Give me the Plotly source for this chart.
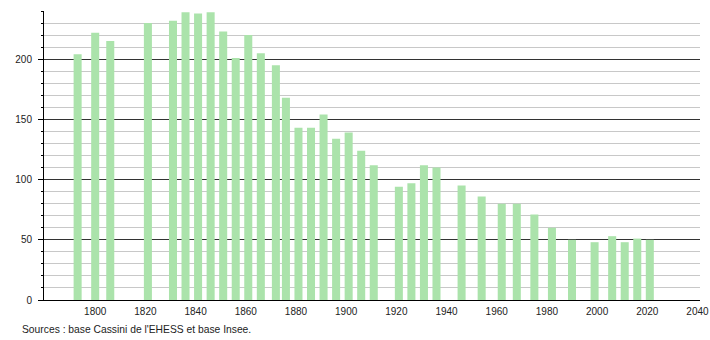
import plotly.graph_objects as go

years = [1793, 1800, 1806, 1821, 1831, 1836, 1841, 1846, 1851, 1856, 1861, 1866,
         1872, 1876, 1881, 1886, 1891, 1896, 1901, 1906, 1911, 1921, 1926, 1931,
         1936, 1946, 1954, 1962, 1968, 1975, 1982, 1990, 1999, 2006, 2011, 2016, 2021]
population = [204, 222, 215, 230, 232, 239, 238, 239, 223, 201, 220, 205,
              195, 168, 143, 143, 154, 134, 139, 124, 112, 94, 97, 112,
              110, 95, 86, 80, 80, 71, 60, 50, 48, 53, 48, 51, 50]
x_ticks = [1800, 1820, 1840, 1860, 1880, 1900, 1920, 1940, 1960, 1980, 2000, 2020, 2040]
y_ticks = [0, 50, 100, 150, 200]
source_text = "Sources : base Cassini de l'EHESS et base Insee."

fig = go.Figure()
fig.add_trace(go.Bar(
    x=years, y=population, width=3.2,
    marker=dict(color="#abe3ab", line=dict(width=0)),
    hoverinfo="x+y",
))

font = "Liberation Sans, Arial, sans-serif"
fig.update_layout(
    width=710, height=340,
    margin=dict(l=44, r=10, t=11, b=40),
    paper_bgcolor="white", plot_bgcolor="white",
    showlegend=False,
    font=dict(family=font, size=10, color="#222"),
    xaxis=dict(
        range=[1779.6, 2041.0],
        tickvals=x_ticks, ticktext=[str(v) for v in x_ticks],
        showgrid=False, zeroline=False, automargin=False,
        showline=True, linecolor="#000", linewidth=1,
        ticks="", ticklabelstandoff=2,
        tickfont=dict(size=10, color="#222"),
    ),
    yaxis=dict(
        range=[0, 240],
        tickvals=y_ticks, automargin=False,
        showgrid=True, gridcolor="#333", gridwidth=1,
        zeroline=False,
        showline=True, linecolor="#000", linewidth=1,
        ticks="outside", ticklen=5, tickcolor="#000",
        tickfont=dict(size=10, color="#222"),
        ticklabelstandoff=4,
        minor=dict(dtick=10, tick0=0, showgrid=True, gridcolor="#c8c8c8",
                   gridwidth=1, ticks="outside", ticklen=2, tickcolor="#000"),
        layer="below traces",
    ),
    annotations=[dict(
        text=source_text, xref="paper", yref="paper",
        x=-24/656, y=-29/289, xanchor="left", yanchor="middle",
        showarrow=False, font=dict(size=10.3, color="#222", family=font),
    )],
)

fig.write_html("out.html")
